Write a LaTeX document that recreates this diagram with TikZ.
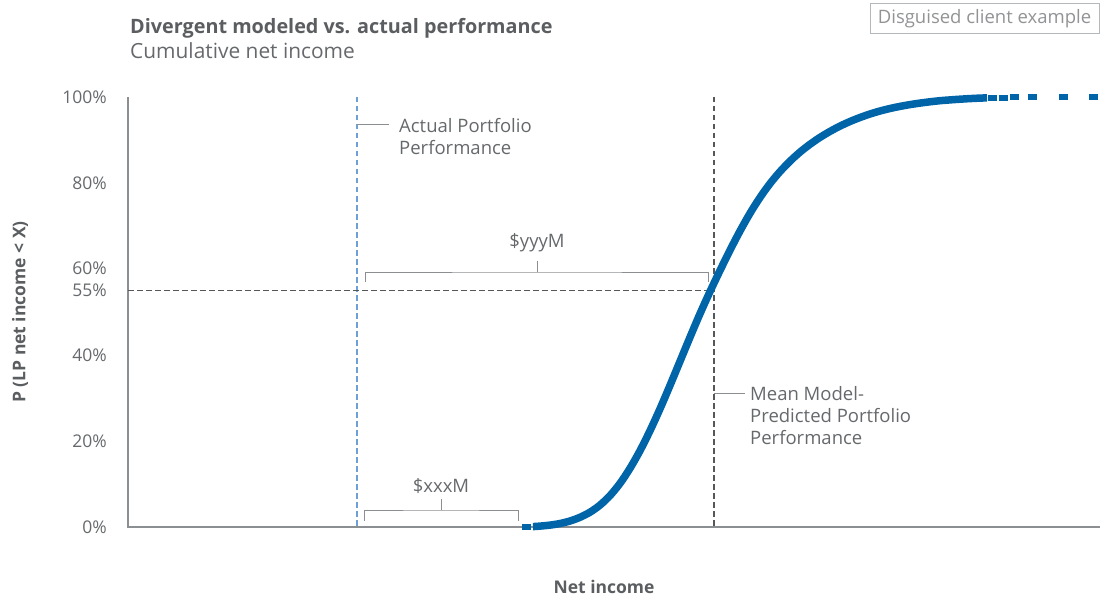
\documentclass[tikz,border=0pt]{standalone}
\usepackage{fontspec}
\setmainfont{Open Sans}
\definecolor{txt}{HTML}{66696C}
\definecolor{ttl}{HTML}{5B5E61}
\definecolor{axisgray}{HTML}{8C8F92}
\definecolor{dashgray}{HTML}{55585B}
\definecolor{lightblue}{HTML}{6E9FD6}
\definecolor{curveblue}{HTML}{0064A8}
\definecolor{boxgray}{HTML}{B5B8BA}
\tikzset{
  lbl/.style={text=txt, font=\fontsize{18.5}{22}\selectfont, inner sep=0pt},
  tick/.style={lbl, anchor=east, font=\fontsize{17.5}{20}\selectfont},
  bold/.style={text=ttl, font=\fontsize{17.5}{20}\selectfont\bfseries, inner sep=0pt},
  axisline/.style={draw=axisgray, line width=1.6pt},
  guide/.style={draw=dashgray, line width=1.4pt, dash pattern=on 5.5pt off 3.5pt},
  blueguide/.style={draw=lightblue, line width=1.4pt, dash pattern=on 5.5pt off 3.5pt},
  bracket/.style={draw=axisgray, line width=1pt},
  leader/.style={draw=axisgray, line width=1pt},
  curve/.style={draw=curveblue, line width=7.5pt},
  dot/.style={fill=curveblue, minimum width=9pt, minimum height=6pt, inner sep=0pt, draw=none},
}
\begin{document}
\begin{tikzpicture}[x=1pt, y=-1pt]
\useasboundingbox (0,0) rectangle (1102,596);
% titles
\node[anchor=base west, text=ttl, font=\fontsize{19.8}{22}\selectfont\bfseries, inner sep=0pt] (title) at (130,34) {Divergent modeled vs. actual performance};
\node[anchor=base west, text=txt, font=\fontsize{20.9}{22}\selectfont, inner sep=0pt] (subtitle) at (130,59) {Cumulative net income};
\node[draw=boxgray, line width=1pt, text=boxgray!80!black, font=\fontsize{18.5}{20}\selectfont, minimum width=229pt, minimum height=30pt, inner sep=0pt] (disg) at (984.5,19) {Disguised client example};
% axes
\coordinate (o) at (128,527);
\coordinate (ytop) at (128,97);
\coordinate (xend) at (1100,527);
\draw[axisline] (ytop) -- (o) -- (xend);
% ticks
\foreach \v/\y in {100/97, 80/183, 60/268, 55/290, 40/355, 20/441, 0/527}{
  \node[tick] (t\v) at (107,\y) {\v\%};
}
\node[bold, rotate=90] (ylab) at (20,312) {P (LP net income < X)};
\node[bold, anchor=base] (xlab) at (604,593) {Net income};
% guides
\coordinate (a1) at (357,97);
\coordinate (a2) at (357,527);
\coordinate (m1) at (714,97);
\coordinate (m2) at (714,527);
\coordinate (h1) at (128,290.5);
\coordinate (h2) at (714,290.5);
\draw[blueguide] (a1) -- (a2);
\draw[guide] (m1) -- (m2);
\draw[guide] (h1) -- (h2);
% curve
\draw[curve] plot[smooth, tension=0.5] coordinates {
 (533,526.6) (540,526.1) (550,525.1) (560,523.5) (570,521.0) (580,517.3) (590,512.2) (600,505.1) (610,495.6) (620,483.4) (630,468.3) (640,450.7) (650,430.7) (660,408.8) (670,385.4) (680,361.3) (690,337.2) (700,313.7) (710,291.6) (720,270.5) (730,250.2) (740,231.0) (750,213.3) (760,197.5) (770,183.6) (780,171.6) (790,161.2) (800,152.1) (810,144.3) (820,137.4) (830,131.4) (840,126.1) (850,121.5) (860,117.5) (870,114.0) (880,111.0) (890,108.5) (900,106.4) (910,104.6) (920,103.1) (930,101.8) (940,100.7) (950,99.9) (960,99.2) (970,98.6) (980,98.1) (987,97.9)};
\node[dot] (d0) at (526,527) {};
\foreach \x/\y [count=\i] in {992/97.8, 1003/97.6, 1014/97.5, 1032/97.3, 1063/97.1, 1093/97}{
  \node[dot] (dd\i) at (\x,\y) {};
}
% callouts
\coordinate (la) at (357,125);
\coordinate (lb) at (389,125);
\draw[leader] (la) -- (lb);
\node[lbl, anchor=base west, align=left] (actual) at (399,155) {Actual Portfolio\\Performance};
\coordinate (lc) at (714,393);
\coordinate (ld) at (745,393);
\draw[leader] (lc) -- (ld);
\node[lbl, anchor=base west, align=left] (mean) at (750,444) {Mean Model-\\Predicted Portfolio\\Performance};
% brackets
\coordinate (y1) at (365,282);
\coordinate (y2) at (708,282);
\coordinate (ym) at (537,272);
\coordinate (ymt) at (537,261);
\draw[bracket] (y1) |- (ym) -| (y2);
\draw[bracket] (ym) -- (ymt);
\node[lbl] (yyy) at (537,243) {\$yyyM};
\coordinate (x1) at (364,521);
\coordinate (x2) at (518,521);
\coordinate (xm) at (441,510);
\coordinate (xmt) at (441,499);
\draw[bracket] (x1) |- (xm) -| (x2);
\draw[bracket] (xm) -- (xmt);
\node[lbl] (xxx) at (441,486) {\$xxxM};
\end{tikzpicture}
\end{document}
